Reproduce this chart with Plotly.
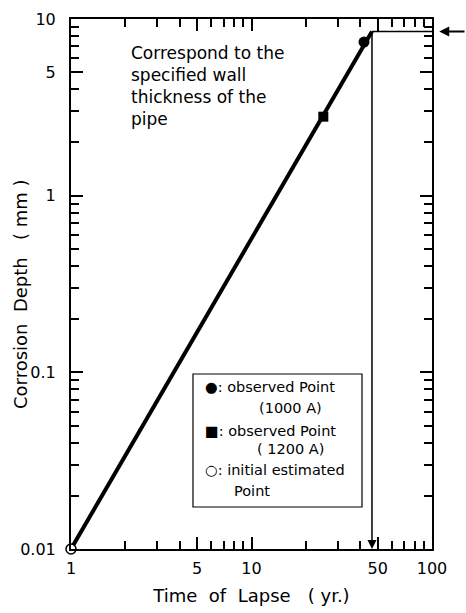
import numpy as np
import plotly.graph_objects as go

# Data
line_x = [1, 46.5]
line_y = [0.01, 8.5]
obs1000_x = [42]
obs1000_y = [7.4]
obs1200_x = [25]
obs1200_y = [2.8]
init_x = [1]
init_y = [0.01]
wall_y = 8.5
life_x = 46.5

x_ticks = [1, 5, 10, 50, 100]
x_ticktext = ["1", "5", "10", "50", "100"]
x_minor = [2, 3, 4, 6, 7, 8, 9, 20, 30, 40, 60, 70, 80, 90]
y_ticks = [0.01, 0.1, 1, 5, 10]
y_ticktext = ["0.01", "0.1", "1", "5", "10"]
y_minor = [0.02, 0.03, 0.04, 0.05, 0.06, 0.07, 0.08, 0.09,
           0.2, 0.3, 0.4, 0.5, 0.6, 0.7, 0.8, 0.9,
           2, 3, 4, 6, 7, 8, 9]

FONT = "DejaVu Sans"
fig = go.Figure()

fig.add_trace(go.Scatter(x=line_x, y=line_y, mode="lines",
                         line=dict(color="black", width=4), cliponaxis=False,
                         showlegend=False))
fig.add_trace(go.Scatter(x=[life_x, 100], y=[wall_y, wall_y], mode="lines",
                         line=dict(color="black", width=1.5), showlegend=False))
fig.add_trace(go.Scatter(x=obs1000_x, y=obs1000_y, mode="markers",
                         marker=dict(symbol="circle", size=11, color="black"),
                         showlegend=False))
fig.add_trace(go.Scatter(x=obs1200_x, y=obs1200_y, mode="markers",
                         marker=dict(symbol="square", size=10, color="black"),
                         showlegend=False))
fig.add_trace(go.Scatter(x=init_x, y=init_y, mode="markers", cliponaxis=False,
                         marker=dict(symbol="circle", size=10, color="white",
                                     line=dict(color="black", width=1.5)),
                         showlegend=False))

annotations = []
# vertical arrow down to x-axis
annotations.append(dict(x=np.log10(life_x), y=-2, xref="x", yref="y",
                        ax=np.log10(life_x), ay=np.log10(wall_y), axref="x", ayref="y",
                        text="", showarrow=True, arrowhead=2, arrowsize=1.2,
                        arrowwidth=1.5, arrowcolor="black"))
# right-side arrow pointing left
annotations.append(dict(x=1.02, y=np.log10(wall_y), xref="paper", yref="y",
                        ax=28, ay=0, text="", showarrow=True, arrowhead=2,
                        arrowsize=1, arrowwidth=2, arrowcolor="black"))
# text annotation
annotations.append(dict(x=(129 - 71) / 361, y=(549 - 41) / 530, xref="paper", yref="paper",
                        xanchor="left", yanchor="top", align="left", showarrow=False,
                        text="Correspond to the<br>specified wall<br>thickness of the<br>pipe",
                        font=dict(family=FONT, size=17, color="black")))
# y-axis title
annotations.append(dict(x=(20 - 71) / 361, y=(549 - 295) / 530, xref="paper", yref="paper",
                        xanchor="center", yanchor="middle", textangle=-90, showarrow=False,
                        text="Corrosion  Depth   ( mm )",
                        font=dict(family=FONT, size=18, color="black")))
# legend box
legend_lines = [
    ("\u25cf: observed Point", 387, 203, "left"),
    ("(1000 A)", 408, 290, "center"),
    ("\u25a0: observed Point", 431, 203, "left"),
    ("( 1200 A)", 449, 290, "center"),
    ("\u25cb: initial estimated", 470, 203, "left"),
    ("Point", 491, 232, "left"),
]
for txt, py, px, anc in legend_lines:
    annotations.append(dict(x=(px - 71) / 361, y=(549 - py) / 530, xref="paper", yref="paper",
                            xanchor=anc, yanchor="middle", showarrow=False, text=txt,
                            font=dict(family=FONT, size=14.5, color="black")))

fig.add_shape(type="rect", xref="paper", yref="paper",
              x0=(193 - 71) / 361, x1=(362 - 71) / 361,
              y0=(549 - 507) / 530, y1=(549 - 374) / 530,
              line=dict(color="black", width=1.2), fillcolor="white", layer="below")

axis_common = dict(type="log", showline=True, linewidth=2, linecolor="black",
                   mirror="allticks", ticks="inside", ticklen=12, tickwidth=1.5,
                   tickcolor="black", showgrid=False, zeroline=False, automargin=False,
                   tickfont=dict(family=FONT, size=16, color="black"))

fig.update_xaxes(**axis_common, range=[0, 2], tickmode="array", tickvals=x_ticks,
                 ticktext=x_ticktext, ticklabelstandoff=4,
                 minor=dict(tickmode="array", tickvals=x_minor, ticks="inside",
                            ticklen=8, tickwidth=1.5, tickcolor="black", showgrid=False),
                 title=dict(text="Time  of  Lapse   ( yr.)", standoff=12,
                            font=dict(family=FONT, size=18, color="black")))
fig.update_yaxes(**axis_common, range=[-2, 1], tickmode="array", tickvals=y_ticks,
                 ticktext=y_ticktext, ticklabelstandoff=10,
                 minor=dict(tickmode="array", tickvals=y_minor, ticks="inside",
                            ticklen=8, tickwidth=1.5, tickcolor="black", showgrid=False))

fig.update_layout(width=466, height=613, margin=dict(l=71, r=34, t=19, b=64),
                  plot_bgcolor="white", paper_bgcolor="white",
                  annotations=annotations, showlegend=False,
                  font=dict(family=FONT, color="black"))

fig.write_html("out.html")
